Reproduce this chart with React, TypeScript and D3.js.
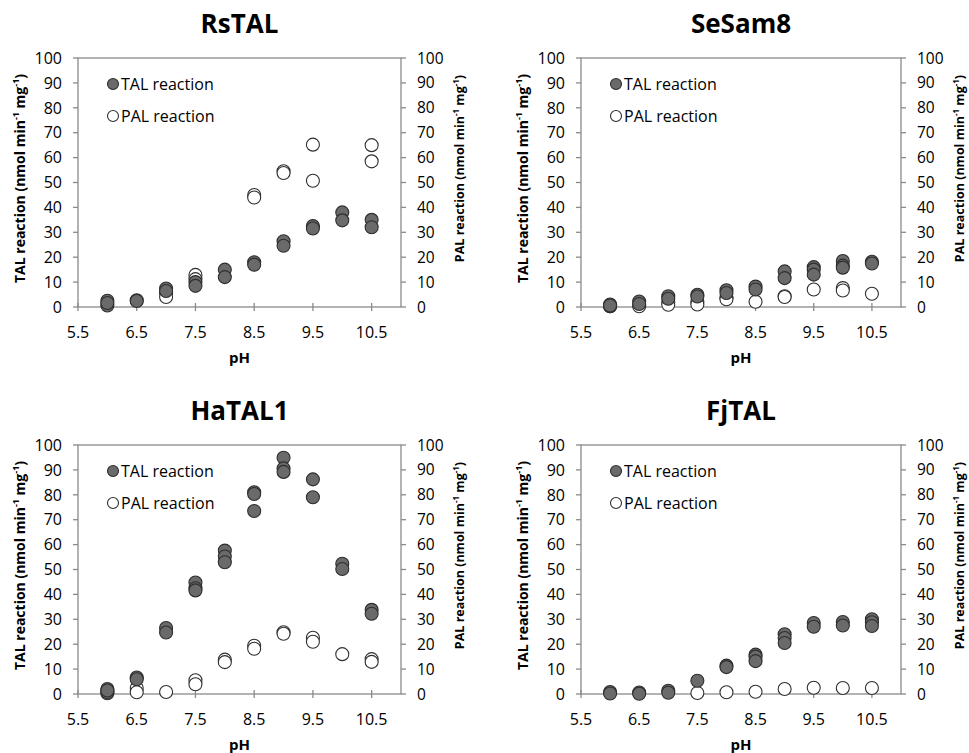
import React from "react";
import * as d3 from "d3";

type Pt = [number, number];

// pH axis ticks and value axis ticks
const xTickValues = [5.5, 6.5, 7.5, 8.5, 9.5, 10.5];
const yTickValues = [0, 10, 20, 30, 40, 50, 60, 70, 80, 90, 100];
const panelTitles = ["RsTAL", "SeSam8", "HaTAL1", "FjTAL"];

// RsTAL
const rsTAL_TAL: Pt[] = [
  [6, 2.5], [6, 0.6], [6, 1.6],
  [6.5, 2.7], [6.5, 2.4],
  [7, 7.4], [7, 6.4],
  [7.5, 10.0], [7.5, 8.5],
  [8, 15.0], [8, 12.0],
  [8.5, 18.0], [8.5, 17.0],
  [9, 26.4], [9, 24.6],
  [9.5, 32.5], [9.5, 31.5],
  [10, 38.0], [10, 34.8],
  [10.5, 35.0], [10.5, 32.0],
];
const rsTAL_PAL: Pt[] = [
  [7, 5.5], [7, 4.0],
  [7.5, 12.9], [7.5, 11.2],
  [8.5, 45.0], [8.5, 44.0],
  [9, 54.5], [9, 53.8],
  [9.5, 65.2], [9.5, 50.7],
  [10.5, 65.0], [10.5, 58.5],
];

// SeSam8
const seSam8_TAL: Pt[] = [
  [6, 1.0], [6, 0.3], [6, 0.6],
  [6.5, 2.2], [6.5, 1.2],
  [7, 4.3], [7, 3.3],
  [7.5, 4.9], [7.5, 4.2],
  [8, 6.7], [8, 5.6],
  [8.5, 8.2], [8.5, 7.0],
  [9, 14.3], [9, 11.6],
  [9.5, 16.0], [9.5, 15.0], [9.5, 13.0],
  [10, 18.5], [10, 16.6], [10, 15.8],
  [10.5, 18.2], [10.5, 17.5],
];
const seSam8_PAL: Pt[] = [
  [6, 0.3],
  [6.5, 0.3],
  [7, 2.0], [7, 0.9],
  [7.5, 2.1], [7.5, 1.0],
  [8, 3.7], [8, 3.1],
  [8.5, 2.1],
  [9, 4.3], [9, 4.0],
  [9.5, 7.0],
  [10, 7.6], [10, 6.6],
  [10.5, 5.3],
];

// HaTAL1
const haTAL1_TAL: Pt[] = [
  [6, 2.0], [6, 0.7], [6, 1.4],
  [6.5, 6.6], [6.5, 5.9],
  [7, 26.5], [7, 24.7],
  [7.5, 44.8], [7.5, 42.5], [7.5, 41.6],
  [8, 57.6], [8, 55.2], [8, 52.9],
  [8.5, 81.0], [8.5, 80.3], [8.5, 73.5],
  [9, 94.9], [9, 90.6], [9, 89.2],
  [9.5, 86.2], [9.5, 79.0],
  [10, 52.3], [10, 50.2],
  [10.5, 33.8], [10.5, 32.2],
];
const haTAL1_PAL: Pt[] = [
  [6, 0.3],
  [6.5, 2.4], [6.5, 0.7],
  [7, 0.8],
  [7.5, 5.5], [7.5, 3.9],
  [8, 13.8], [8, 12.8],
  [8.5, 19.4], [8.5, 18.2],
  [9, 24.8], [9, 24.2],
  [9.5, 22.6], [9.5, 21.0],
  [10, 16.0],
  [10.5, 14.0], [10.5, 12.9],
];

// FjTAL
const fjTAL_TAL: Pt[] = [
  [6, 0.8], [6, 0.2],
  [6.5, 0.6], [6.5, 0.1],
  [7, 1.3], [7, 0.5],
  [7.5, 5.3],
  [8, 11.4], [8, 10.8],
  [8.5, 15.8], [8.5, 15.0], [8.5, 13.2],
  [9, 24.0], [9, 22.5], [9, 20.5],
  [9.5, 28.5], [9.5, 27.0],
  [10, 28.9], [10, 27.5],
  [10.5, 30.0], [10.5, 28.8], [10.5, 27.3],
];
const fjTAL_PAL: Pt[] = [
  [7.5, 0.4], [8, 0.7], [8.5, 0.9], [9, 2.0], [9.5, 2.5], [10, 2.4], [10.5, 2.4],
];

const FONT = "'Open Sans', 'DejaVu Sans', sans-serif";
const AXIS = "#8a8a8a";
const TXT = "#000000";
const FILL = "#6a6a6a";
const EDGE = "#2e2e2e";
const R = 6.5;

function AxisTitle({ x, y, main, size }: { x: number; y: number; main: string; size: number }) {
  const sup = Math.round(size * 0.62);
  return (
    <text
      transform={`translate(${x},${y}) rotate(-90)`}
      textAnchor="middle"
      dy="0.35em"
      fontFamily={FONT}
      fontWeight="bold"
      fontSize={size}
      fill={TXT}
    >
      {main} reaction (nmol min
      <tspan baselineShift="super" fontSize={sup}>-1</tspan> mg
      <tspan baselineShift="super" fontSize={sup}>-1</tspan>)
    </text>
  );
}

function Panel({
  title, tal, pal, x0, y0, w, h,
}: { title: string; tal: Pt[]; pal: Pt[]; x0: number; y0: number; w: number; h: number }) {
  const x = d3.scaleLinear().domain([5.5, 11]).range([x0, x0 + w]);
  const y = d3.scaleLinear().domain([0, 100]).range([y0 + h, y0]);
  const y2 = d3.scaleLinear().domain([0, 100]).range([y0 + h, y0]);
  const x1 = x0 + w;
  const yb = y0 + h;
  return (
    <g>
      <text x={x0 + w / 2} y={y0 - 25} textAnchor="middle" fontFamily={FONT} fontWeight="bold" fontSize={26} fill={TXT}>
        {title}
      </text>
      <rect x={x0} y={y0} width={w} height={h} fill="none" stroke={AXIS} strokeWidth={1.3} />
      {yTickValues.map((t) => (
        <g key={"yl" + t}>
          <line x1={x0 - 5} x2={x0} y1={y(t)} y2={y(t)} stroke={AXIS} strokeWidth={1.3} />
          <text x={x0 - 16} y={y(t)} dy="0.36em" textAnchor="end" fontFamily={FONT} fontSize={16} fill={TXT}>
            {t}
          </text>
          <line x1={x1} x2={x1 + 5} y1={y2(t)} y2={y2(t)} stroke={AXIS} strokeWidth={1.3} />
          <text x={x1 + 16} y={y2(t)} dy="0.36em" textAnchor="start" fontFamily={FONT} fontSize={15.5} fill={TXT}>
            {t}
          </text>
        </g>
      ))}
      {xTickValues.map((t) => (
        <g key={"xt" + t}>
          <line x1={x(t)} x2={x(t)} y1={yb - 4} y2={yb + 4} stroke={AXIS} strokeWidth={1.3} />
          <text x={x(t)} y={yb + 31} textAnchor="middle" fontFamily={FONT} fontSize={16} fill={TXT}>
            {t.toFixed(1)}
          </text>
        </g>
      ))}
      <text x={x0 + w / 2} y={yb + 56} textAnchor="middle" fontFamily={FONT} fontWeight="bold" fontSize={15} fill={TXT}>
        pH
      </text>
      <AxisTitle x={x0 - 58} y={y0 + h / 2 - 4} main="TAL" size={14} />
      <AxisTitle x={x1 + 59} y={y0 + h / 2 - 14} main="PAL" size={12.5} />

      {pal.map((p, i) => (
        <circle key={"p" + i} cx={x(p[0])} cy={y2(p[1])} r={R} fill="#ffffff" stroke={EDGE} strokeWidth={1.1} />
      ))}
      {tal.map((p, i) => (
        <circle key={"t" + i} cx={x(p[0])} cy={y(p[1])} r={R} fill={FILL} stroke={EDGE} strokeWidth={1.1} />
      ))}

      <circle cx={x0 + 35} cy={y0 + 26} r={5.5} fill={FILL} stroke={EDGE} strokeWidth={1.1} />
      <text x={x0 + 43} y={y0 + 26} dy="0.36em" fontFamily={FONT} fontSize={16} fill={TXT}>TAL reaction</text>
      <circle cx={x0 + 35} cy={y0 + 58} r={5.5} fill="#ffffff" stroke={EDGE} strokeWidth={1.1} />
      <text x={x0 + 43} y={y0 + 58} dy="0.36em" fontFamily={FONT} fontSize={16} fill={TXT}>PAL reaction</text>
    </g>
  );
}

export default function App() {
  const w1 = 323;
  const w2 = 320;
  const h = 249;
  return (
    <svg width={969} height={753} style={{ position: "absolute", left: 0, top: 0, background: "#ffffff" }}>
      <rect width={969} height={753} fill="#ffffff" />
      <Panel title={panelTitles[0]} tal={rsTAL_TAL} pal={rsTAL_PAL} x0={78} y0={58} w={w1} h={h} />
      <Panel title={panelTitles[1]} tal={seSam8_TAL} pal={seSam8_PAL} x0={581} y0={58} w={w2} h={h} />
      <Panel title={panelTitles[2]} tal={haTAL1_TAL} pal={haTAL1_PAL} x0={78} y0={445} w={w1} h={h} />
      <Panel title={panelTitles[3]} tal={fjTAL_TAL} pal={fjTAL_PAL} x0={581} y0={445} w={w2} h={h} />
    </svg>
  );
}
